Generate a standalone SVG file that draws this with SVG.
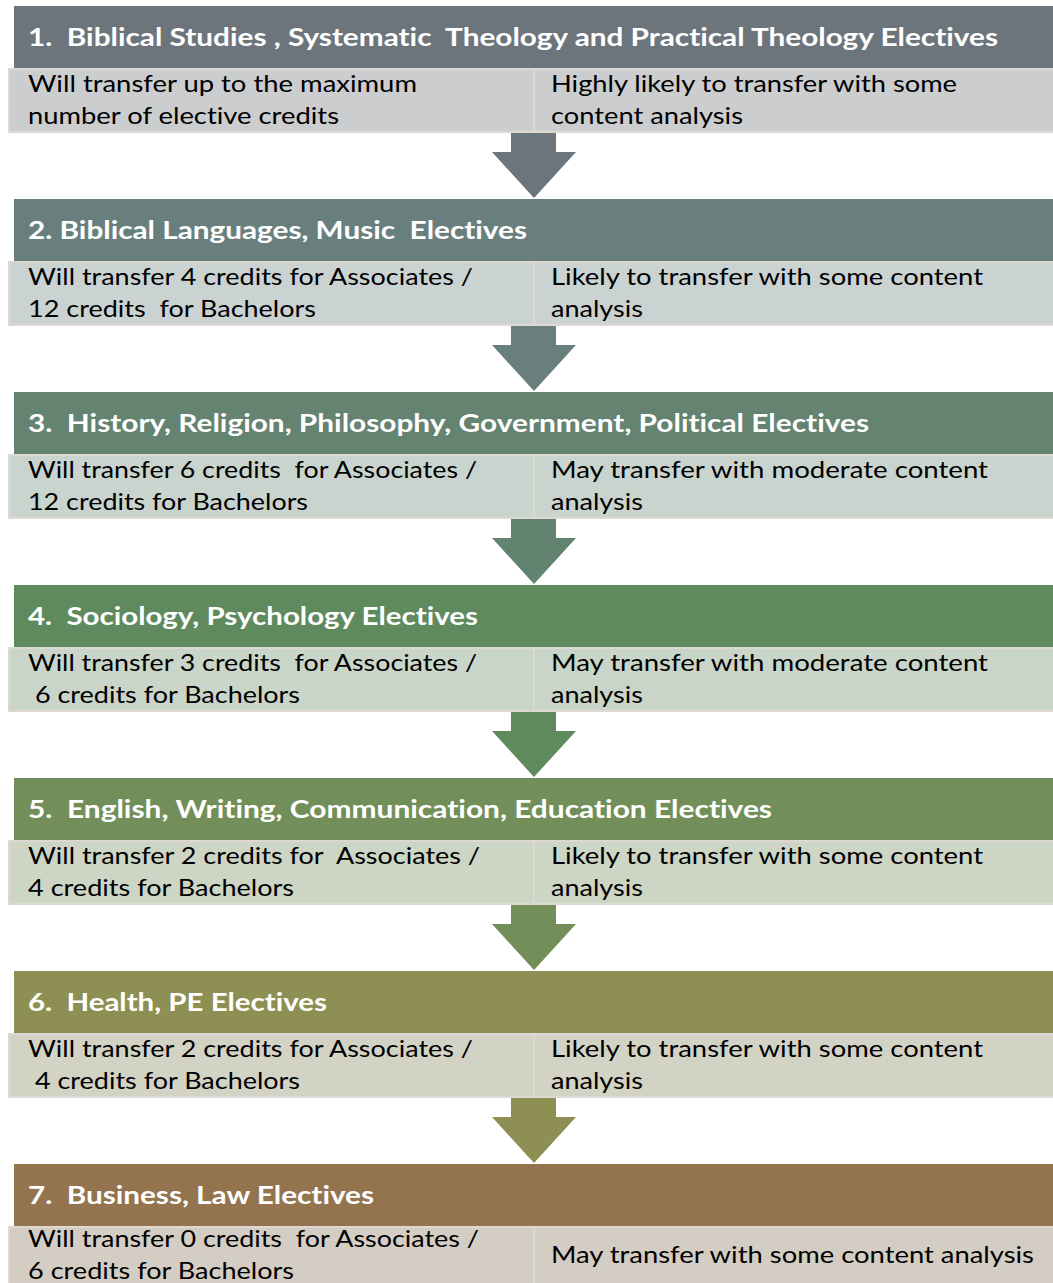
<svg xmlns="http://www.w3.org/2000/svg" width="1053" height="1283" viewBox="0 0 1053 1283">
<style>
.h{font-family:Lato,"Open Sans","Liberation Sans",sans-serif;font-weight:bold;font-size:24.5px;fill:#ffffff;white-space:pre;font-variant-ligatures:none}
.b{font-family:Lato,"Open Sans","Liberation Sans",sans-serif;font-size:24px;fill:#000000;white-space:pre;font-variant-ligatures:none}
.cell{stroke:#DED8D2;stroke-width:2}
</style>
<rect width="1053" height="1283" fill="#ffffff"/>
<g id="connectors">
<polygon fill="#6D757C" points="511,132 556,132 556,152 576,152 534,198 492,152 511,152"/>
<polygon fill="#687F7E" points="511,325 556,325 556,345 576,345 534,391 492,345 511,345"/>
<polygon fill="#628370" points="511,518 556,518 556,538 576,538 534,584 492,538 511,538"/>
<polygon fill="#5E8A5E" points="511,711 556,711 556,731 576,731 534,777 492,731 511,731"/>
<polygon fill="#738F59" points="511,904 556,904 556,924 576,924 534,970 492,924 511,924"/>
<polygon fill="#8E8F52" points="511,1097 556,1097 556,1117 576,1117 534,1163 492,1117 511,1117"/>
</g>
<g id="node1">
<rect x="14" y="6" width="1045" height="62" fill="#6D757C"/>
<text class="h" x="28" y="46" textLength="970" lengthAdjust="spacingAndGlyphs">1.  Biblical Studies , Systematic  Theology and Practical Theology Electives</text>
<rect class="cell" x="9" y="69" width="525" height="63" fill="#CBCDCF"/>
<rect class="cell" x="534" y="69" width="525" height="63" fill="#CBCDCF"/>
<text class="b" x="28" y="92" textLength="389" lengthAdjust="spacingAndGlyphs">Will transfer up to the maximum</text>
<text class="b" x="28" y="124" textLength="311" lengthAdjust="spacingAndGlyphs">number of elective credits</text>
<text class="b" x="551" y="92" textLength="406" lengthAdjust="spacingAndGlyphs">Highly likely to transfer with some</text>
<text class="b" x="551" y="124" textLength="192" lengthAdjust="spacingAndGlyphs">content analysis</text>
</g>
<g id="node2">
<rect x="14" y="199" width="1045" height="62" fill="#687F7E"/>
<text class="h" x="28" y="239" textLength="499" lengthAdjust="spacingAndGlyphs">2. Biblical Languages, Music  Electives</text>
<rect class="cell" x="9" y="262" width="525" height="63" fill="#CAD3D2"/>
<rect class="cell" x="534" y="262" width="525" height="63" fill="#CAD3D2"/>
<text class="b" x="28" y="285" textLength="445" lengthAdjust="spacingAndGlyphs">Will transfer 4 credits for Associates /</text>
<text class="b" x="28" y="317" textLength="288" lengthAdjust="spacingAndGlyphs">12 credits  for Bachelors</text>
<text class="b" x="551" y="285" textLength="432" lengthAdjust="spacingAndGlyphs">Likely to transfer with some content</text>
<text class="b" x="551" y="317" textLength="92" lengthAdjust="spacingAndGlyphs">analysis</text>
</g>
<g id="node3">
<rect x="14" y="392" width="1045" height="62" fill="#648371"/>
<text class="h" x="28" y="432" textLength="841" lengthAdjust="spacingAndGlyphs">3.  History, Religion, Philosophy, Government, Political Electives</text>
<rect class="cell" x="9" y="455" width="525" height="63" fill="#C9D4CF"/>
<rect class="cell" x="534" y="455" width="525" height="63" fill="#C9D4CF"/>
<text class="b" x="28" y="478" textLength="449" lengthAdjust="spacingAndGlyphs">Will transfer 6 credits  for Associates /</text>
<text class="b" x="28" y="510" textLength="280" lengthAdjust="spacingAndGlyphs">12 credits for Bachelors</text>
<text class="b" x="551" y="478" textLength="437" lengthAdjust="spacingAndGlyphs">May transfer with moderate content</text>
<text class="b" x="551" y="510" textLength="92" lengthAdjust="spacingAndGlyphs">analysis</text>
</g>
<g id="node4">
<rect x="14" y="585" width="1045" height="62" fill="#5E8A5E"/>
<text class="h" x="28" y="625" textLength="450" lengthAdjust="spacingAndGlyphs">4.  Sociology, Psychology Electives</text>
<rect class="cell" x="9" y="648" width="525" height="63" fill="#C9D5C8"/>
<rect class="cell" x="534" y="648" width="525" height="63" fill="#C9D5C8"/>
<text class="b" x="28" y="671" textLength="449" lengthAdjust="spacingAndGlyphs">Will transfer 3 credits  for Associates /</text>
<text class="b" x="28" y="703" textLength="272" lengthAdjust="spacingAndGlyphs"> 6 credits for Bachelors</text>
<text class="b" x="551" y="671" textLength="437" lengthAdjust="spacingAndGlyphs">May transfer with moderate content</text>
<text class="b" x="551" y="703" textLength="92" lengthAdjust="spacingAndGlyphs">analysis</text>
</g>
<g id="node5">
<rect x="14" y="778" width="1045" height="62" fill="#738F59"/>
<text class="h" x="28" y="818" textLength="744" lengthAdjust="spacingAndGlyphs">5.  English, Writing, Communication, Education Electives</text>
<rect class="cell" x="9" y="841" width="525" height="63" fill="#CDD5C5"/>
<rect class="cell" x="534" y="841" width="525" height="63" fill="#CDD5C5"/>
<text class="b" x="28" y="864" textLength="452" lengthAdjust="spacingAndGlyphs">Will transfer 2 credits for  Associates /</text>
<text class="b" x="28" y="896" textLength="266" lengthAdjust="spacingAndGlyphs">4 credits for Bachelors</text>
<text class="b" x="551" y="864" textLength="432" lengthAdjust="spacingAndGlyphs">Likely to transfer with some content</text>
<text class="b" x="551" y="896" textLength="92" lengthAdjust="spacingAndGlyphs">analysis</text>
</g>
<g id="node6">
<rect x="14" y="971" width="1045" height="62" fill="#8E8F52"/>
<text class="h" x="28" y="1011" textLength="299" lengthAdjust="spacingAndGlyphs">6.  Health, PE Electives</text>
<rect class="cell" x="9" y="1034" width="525" height="63" fill="#D2D3C4"/>
<rect class="cell" x="534" y="1034" width="525" height="63" fill="#D2D3C4"/>
<text class="b" x="28" y="1057" textLength="445" lengthAdjust="spacingAndGlyphs">Will transfer 2 credits for Associates /</text>
<text class="b" x="28" y="1089" textLength="272" lengthAdjust="spacingAndGlyphs"> 4 credits for Bachelors</text>
<text class="b" x="551" y="1057" textLength="432" lengthAdjust="spacingAndGlyphs">Likely to transfer with some content</text>
<text class="b" x="551" y="1089" textLength="92" lengthAdjust="spacingAndGlyphs">analysis</text>
</g>
<g id="node7">
<rect x="14" y="1164" width="1045" height="62" fill="#94734F"/>
<text class="h" x="28" y="1204" textLength="346" lengthAdjust="spacingAndGlyphs">7.  Business, Law Electives</text>
<rect class="cell" x="9" y="1227" width="525" height="63" fill="#D4CDC4"/>
<rect class="cell" x="534" y="1227" width="525" height="63" fill="#D4CDC4"/>
<text class="b" x="28" y="1247" textLength="451" lengthAdjust="spacingAndGlyphs">Will transfer 0 credits  for Associates /</text>
<text class="b" x="28" y="1279" textLength="266" lengthAdjust="spacingAndGlyphs">6 credits for Bachelors</text>
<text class="b" x="551" y="1263" textLength="483" lengthAdjust="spacingAndGlyphs">May transfer with some content analysis</text>
</g>
</svg>
